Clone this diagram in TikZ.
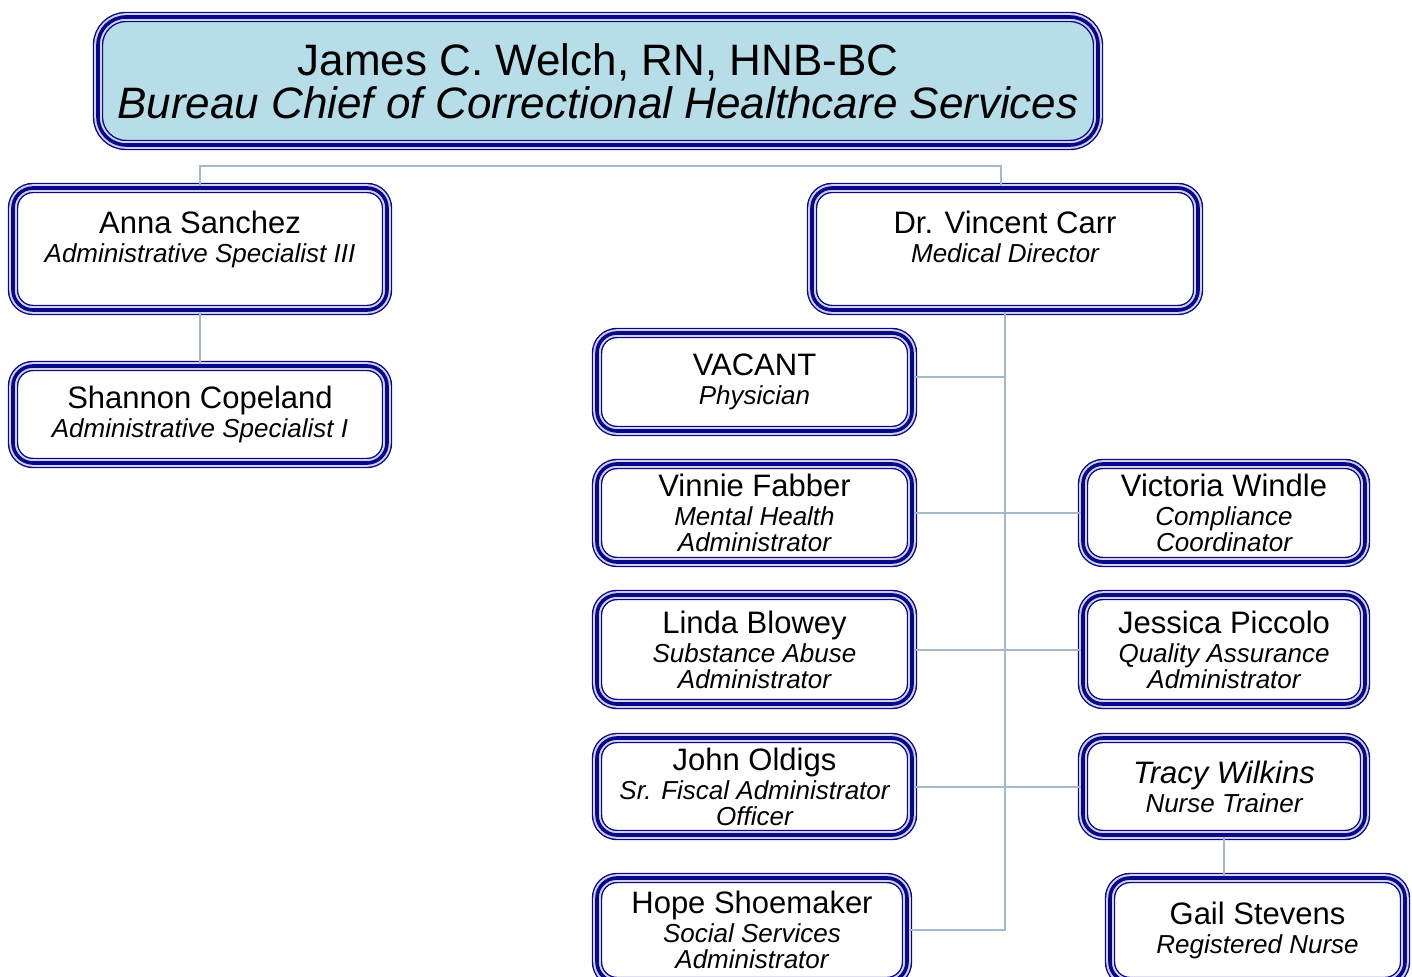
\documentclass[tikz,border=0pt]{standalone}
\usepackage{fontspec}
\setmainfont{Liberation Sans}

\definecolor{navy}{RGB}{8,8,136}
\definecolor{gapgray}{RGB}{208,208,232}
\definecolor{topfill}{RGB}{183,221,232}
\definecolor{linkblue}{RGB}{168,184,204}

\tikzset{
	box/.style={rectangle, rounded corners=10pt, inner sep=0pt, align=center,
		preaction={fill=#1},
		preaction={draw=navy, line width=5.2pt},
		preaction={draw=gapgray, line width=3.8pt},
		draw=navy, line width=1.8pt, font=\fontsize{13}{13}\selectfont\itshape},
	box/.default=white,
	link/.style={draw=linkblue, line width=1pt}
}
\def\who#1{{\fontsize{15.5}{13}\selectfont\upshape #1}\\[1.5pt]}

\begin{document}
\begin{tikzpicture}[x=0.5pt, y=-0.5pt]
	%%%%% START %%%%%
	\useasboundingbox (0,0) rectangle (1412,977);
	
	\node[box=topfill, rounded corners=14pt, minimum width=500pt, minimum height=64pt,
		font=\fontsize{22}{21.5}\selectfont] (chief) at (598,81)
		{James C. Welch, RN, HNB-BC\\\itshape Bureau Chief of Correctional Healthcare Services};
	
	\node[box, minimum width=187pt, minimum height=61pt, text depth=12.5pt] (anna) at (200,249)
		{\who{Anna Sanchez}Administrative Specialist III};
	\node[box, minimum width=187pt, minimum height=48.5pt] (shannon) at (200,414.5)
		{\who{Shannon Copeland}Administrative Specialist I};
	
	\node[box, minimum width=193pt, minimum height=61pt, text depth=12.5pt] (carr) at (1005,249)
		{\who{Dr. Vincent Carr}Medical Director};
	
	\node[box, minimum width=157.5pt, minimum height=49pt] (vacant) at (754.5,382)
		{\who{VACANT}Physician};
	\node[box, minimum width=157.5pt, minimum height=49pt] (vinnie) at (754.5,513)
		{\who{Vinnie Fabber}Mental Health\\Administrator};
	\node[box, minimum width=157.5pt, minimum height=54.5pt] (linda) at (754.5,649.5)
		{\who{Linda Blowey}Substance Abuse\\Administrator};
	\node[box, minimum width=157.5pt, minimum height=48.5pt] (john) at (754.5,786.5)
		{\who{John Oldigs}Sr. Fiscal Administrator\\Officer};
	\node[box, minimum width=155pt, minimum height=52pt] (hope) at (752,930)
		{\who{Hope Shoemaker}Social Services\\Administrator};
	
	\node[box, minimum width=141pt, minimum height=49pt] (victoria) at (1224,513)
		{\who{Victoria Windle}Compliance\\Coordinator};
	\node[box, minimum width=141pt, minimum height=54.5pt] (jessica) at (1224,649.5)
		{\who{Jessica Piccolo}Quality Assurance\\Administrator};
	\node[box, minimum width=141pt, minimum height=48.5pt] (tracy) at (1224,786.5)
		{{\fontsize{15.5}{13}\selectfont Tracy Wilkins}\\[1.5pt]Nurse Trainer};
	\node[box, minimum width=147.5pt, minimum height=52pt] (gail) at (1257.5,930)
		{\who{Gail Stevens}Registered Nurse};
	
	% connectors
	\draw[link] (anna.north) -- ++(0,-20) -| ([xshift=-2pt]carr.north);
	\draw[link] (anna) -- (shannon);
	\draw[link] (carr.south) |- (hope.east);
	\draw[link] ([yshift=2.5pt]vacant.east) -- ([yshift=2.5pt]vacant.east -| carr.south);
	\draw[link] (vinnie) -- (victoria);
	\draw[link] (linda) -- (jessica);
	\draw[link] (john) -- (tracy);
	\draw[link] (tracy.south) -- (tracy.south |- gail.north);
	
	%%%%% END %%%%%
\end{tikzpicture}
\end{document}
